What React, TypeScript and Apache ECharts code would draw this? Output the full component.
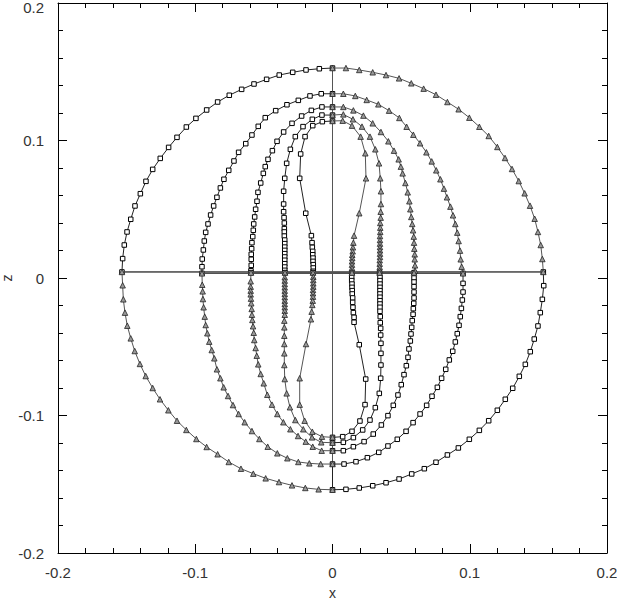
import React, { useEffect, useRef } from "react";
import * as echarts from "echarts";

// Axis ticks
const tickValues = [-0.2, -0.1, 0, 0.1, 0.2];
const tickLabels = ["-0.2", "-0.1", "0", "0.1", "0.2"];

// Curve 1 (outer)
const sq1Up = [[0,0.1527],[-0.0096,0.1522],[-0.0193,0.1513],[-0.0290,0.1496],[-0.0388,0.1476],[-0.0480,0.1445],[-0.0572,0.1411],[-0.0662,0.1372],[-0.0752,0.1329],[-0.0837,0.1280],[-0.0917,0.1222],[-0.0995,0.1161],[-0.1065,0.1098],[-0.1133,0.1023],[-0.1194,0.0950],[-0.1255,0.0870],[-0.1310,0.0790],[-0.1359,0.0703],[-0.1400,0.0613],[-0.1439,0.0524],[-0.1470,0.0427],[-0.1497,0.0335],[-0.1517,0.0240],[-0.1529,0.0141],[-0.1534,0.0044]];
const sq1Low = [[0.1536,0.0044],[0.1539,-0.0056],[0.1529,-0.0155],[0.1514,-0.0252],[0.1497,-0.0349],[0.1470,-0.0444],[0.1441,-0.0536],[0.1405,-0.0628],[0.1361,-0.0715],[0.1313,-0.0802],[0.1259,-0.0882],[0.1201,-0.0962],[0.1138,-0.1038],[0.1070,-0.1108],[0.0997,-0.1173],[0.0917,-0.1236],[0.0837,-0.1287],[0.0754,-0.1340],[0.0669,-0.1387],[0.0577,-0.1425],[0.0485,-0.1462],[0.0390,-0.1489],[0.0293,-0.1511],[0.0195,-0.1527],[0.0098,-0.1537],[0,-0.1540]];
const tri1Up = [[0,0.1527],[0.0098,0.1527],[0.0195,0.1513],[0.0293,0.1496],[0.0390,0.1476],[0.0485,0.1452],[0.0574,0.1416],[0.0664,0.1377],[0.0754,0.1333],[0.0837,0.1280],[0.0919,0.1227],[0.0997,0.1166],[0.1070,0.1100],[0.1138,0.1033],[0.1201,0.0953],[0.1257,0.0873],[0.1308,0.0793],[0.1357,0.0705],[0.1400,0.0616],[0.1439,0.0526],[0.1473,0.0431],[0.1497,0.0335],[0.1517,0.0240],[0.1529,0.0138],[0.1536,0.0044]];
const tri1Low = [[-0.1534,0.0044],[-0.1529,-0.0053],[-0.1524,-0.0155],[-0.1512,-0.0252],[-0.1495,-0.0347],[-0.1470,-0.0439],[-0.1441,-0.0531],[-0.1403,-0.0625],[-0.1361,-0.0713],[-0.1310,-0.0800],[-0.1257,-0.0882],[-0.1196,-0.0962],[-0.1133,-0.1038],[-0.1065,-0.1105],[-0.0992,-0.1171],[-0.0917,-0.1229],[-0.0837,-0.1282],[-0.0756,-0.1338],[-0.0667,-0.1387],[-0.0577,-0.1423],[-0.0487,-0.1457],[-0.0390,-0.1484],[-0.0295,-0.1508],[-0.0198,-0.1527],[-0.0101,-0.1537],[0,-0.1540]];

// Curve 2
const sq2Up = [[0,0.1340],[-0.0082,0.1340],[-0.0164,0.1324],[-0.0249,0.1292],[-0.0332,0.1260],[-0.0414,0.1217],[-0.0490,0.1166],[-0.0541,0.1103],[-0.0587,0.1040],[-0.0632,0.0977],[-0.0684,0.0914],[-0.0718,0.0851],[-0.0756,0.0783],[-0.0791,0.0718],[-0.0817,0.0655],[-0.0842,0.0587],[-0.0866,0.0524],[-0.0888,0.0458],[-0.0907,0.0393],[-0.0924,0.0332],[-0.0934,0.0269],[-0.0941,0.0204],[-0.0949,0.0138],[-0.0951,0.0082],[-0.0951,0.0034]];
const sq2Low = [[0.0951,0.0034],[0.0951,-0.0039],[0.0951,-0.0102],[0.0946,-0.0160],[0.0939,-0.0221],[0.0931,-0.0281],[0.0922,-0.0344],[0.0909,-0.0405],[0.0895,-0.0465],[0.0876,-0.0533],[0.0851,-0.0596],[0.0825,-0.0664],[0.0795,-0.0729],[0.0764,-0.0795],[0.0725,-0.0860],[0.0686,-0.0926],[0.0638,-0.0989],[0.0587,-0.1052],[0.0536,-0.1115],[0.0472,-0.1173],[0.0404,-0.1222],[0.0337,-0.1268],[0.0254,-0.1307],[0.0171,-0.1336],[0.0084,-0.1353],[0,-0.1353]];
const tri2Up = [[0,0.1340],[0.0079,0.1340],[0.0166,0.1324],[0.0249,0.1295],[0.0334,0.1263],[0.0412,0.1217],[0.0487,0.1164],[0.0540,0.1100],[0.0589,0.1042],[0.0638,0.0980],[0.0684,0.0914],[0.0723,0.0848],[0.0756,0.0783],[0.0786,0.0718],[0.0812,0.0650],[0.0834,0.0587],[0.0859,0.0519],[0.0878,0.0456],[0.0895,0.0393],[0.0909,0.0330],[0.0919,0.0269],[0.0929,0.0199],[0.0934,0.0136],[0.0941,0.0082],[0.0951,0.0034]];
const tri2Low = [[-0.0951,0.0034],[-0.0949,-0.0049],[-0.0946,-0.0097],[-0.0944,-0.0153],[-0.0939,-0.0213],[-0.0931,-0.0281],[-0.0924,-0.0342],[-0.0912,-0.0402],[-0.0898,-0.0463],[-0.0880,-0.0524],[-0.0861,-0.0584],[-0.0842,-0.0664],[-0.0817,-0.0729],[-0.0793,-0.0795],[-0.0761,-0.0858],[-0.0725,-0.0924],[-0.0684,-0.0989],[-0.0640,-0.1049],[-0.0587,-0.1113],[-0.0533,-0.1171],[-0.0472,-0.1227],[-0.0402,-0.1275],[-0.0329,-0.1311],[-0.0249,-0.1338],[-0.0169,-0.1348],[-0.0086,-0.1353],[0,-0.1353]];

// Curve 3
const sq3Up = [[0,0.1244],[-0.0077,0.1244],[-0.0154,0.1219],[-0.0225,0.1178],[-0.0295,0.1125],[-0.0356,0.1062],[-0.0404,0.0994],[-0.0438,0.0926],[-0.0470,0.0863],[-0.0490,0.0810],[-0.0504,0.0761],[-0.0523,0.0691],[-0.0543,0.0623],[-0.0550,0.0558],[-0.0560,0.0500],[-0.0567,0.0444],[-0.0574,0.0393],[-0.0577,0.0347],[-0.0581,0.0301],[-0.0587,0.0257],[-0.0589,0.0213],[-0.0592,0.0172],[-0.0592,0.0136],[-0.0592,0.0092],[-0.0594,0.0053],[-0.0594,0.0039]];
const sq3Low = [[0.0594,0.0039],[0.0594,0.0000],[0.0594,-0.0029],[0.0594,-0.0063],[0.0594,-0.0102],[0.0594,-0.0145],[0.0592,-0.0184],[0.0589,-0.0223],[0.0587,-0.0264],[0.0581,-0.0310],[0.0577,-0.0359],[0.0572,-0.0407],[0.0567,-0.0458],[0.0557,-0.0516],[0.0550,-0.0577],[0.0538,-0.0638],[0.0521,-0.0703],[0.0501,-0.0776],[0.0477,-0.0851],[0.0443,-0.0926],[0.0404,-0.1001],[0.0356,-0.1069],[0.0297,-0.1135],[0.0230,-0.1190],[0.0152,-0.1227],[0.0079,-0.1256],[0,-0.1256]];
const tri3Up = [[0,0.1244],[0.0079,0.1244],[0.0152,0.1219],[0.0225,0.1181],[0.0293,0.1125],[0.0353,0.1062],[0.0407,0.0994],[0.0448,0.0926],[0.0482,0.0863],[0.0498,0.0810],[0.0511,0.0761],[0.0531,0.0691],[0.0548,0.0623],[0.0560,0.0558],[0.0567,0.0500],[0.0574,0.0444],[0.0581,0.0393],[0.0587,0.0347],[0.0592,0.0301],[0.0594,0.0257],[0.0596,0.0213],[0.0599,0.0172],[0.0599,0.0136],[0.0601,0.0092],[0.0601,0.0053],[0.0594,0.0039]];
const tri3Low = [[-0.0594,0.0039],[-0.0596,-0.0024],[-0.0596,-0.0063],[-0.0596,-0.0092],[-0.0596,-0.0119],[-0.0594,-0.0150],[-0.0592,-0.0184],[-0.0589,-0.0225],[-0.0587,-0.0267],[-0.0584,-0.0305],[-0.0579,-0.0351],[-0.0574,-0.0398],[-0.0570,-0.0451],[-0.0560,-0.0509],[-0.0552,-0.0565],[-0.0541,-0.0628],[-0.0523,-0.0698],[-0.0501,-0.0766],[-0.0475,-0.0849],[-0.0441,-0.0921],[-0.0402,-0.0989],[-0.0358,-0.1049],[-0.0307,-0.1100],[-0.0251,-0.1149],[-0.0195,-0.1190],[-0.0144,-0.1227],[-0.0079,-0.1256],[0,-0.1256]];

// Curve 4
const sq4Up = [[0,0.1185],[-0.0077,0.1185],[-0.0147,0.1154],[-0.0215,0.1101],[-0.0271,0.1028],[-0.0307,0.0936],[-0.0334,0.0834],[-0.0348,0.0725],[-0.0356,0.0631],[-0.0356,0.0538],[-0.0356,0.0482],[-0.0353,0.0439],[-0.0351,0.0400],[-0.0351,0.0359],[-0.0351,0.0335],[-0.0351,0.0305],[-0.0348,0.0276],[-0.0348,0.0250],[-0.0348,0.0225],[-0.0348,0.0201],[-0.0348,0.0177],[-0.0348,0.0153],[-0.0348,0.0129],[-0.0348,0.0104],[-0.0348,0.0080],[-0.0348,0.0056],[-0.0346,0.0039]];
const sq4Low = [[0.0343,0.0039],[0.0346,0.0005],[0.0346,-0.0019],[0.0346,-0.0044],[0.0346,-0.0068],[0.0346,-0.0092],[0.0346,-0.0116],[0.0346,-0.0140],[0.0346,-0.0165],[0.0346,-0.0189],[0.0346,-0.0213],[0.0346,-0.0242],[0.0348,-0.0281],[0.0348,-0.0325],[0.0351,-0.0366],[0.0351,-0.0415],[0.0353,-0.0475],[0.0353,-0.0548],[0.0353,-0.0633],[0.0351,-0.0729],[0.0341,-0.0839],[0.0312,-0.0943],[0.0273,-0.1033],[0.0220,-0.1105],[0.0152,-0.1161],[0.0079,-0.1195],[0,-0.1198]];
const tri4Up = [[0,0.1185],[0.0079,0.1190],[0.0149,0.1154],[0.0215,0.1101],[0.0273,0.1028],[0.0312,0.0936],[0.0339,0.0834],[0.0348,0.0725],[0.0353,0.0631],[0.0353,0.0538],[0.0351,0.0482],[0.0351,0.0439],[0.0348,0.0400],[0.0348,0.0366],[0.0348,0.0335],[0.0346,0.0305],[0.0346,0.0276],[0.0346,0.0250],[0.0346,0.0225],[0.0346,0.0201],[0.0346,0.0177],[0.0346,0.0153],[0.0344,0.0129],[0.0344,0.0104],[0.0344,0.0080],[0.0344,0.0056],[0.0343,0.0039]];
const tri4Low = [[-0.0346,0.0039],[-0.0348,0.0005],[-0.0348,-0.0019],[-0.0348,-0.0044],[-0.0348,-0.0068],[-0.0348,-0.0092],[-0.0348,-0.0116],[-0.0348,-0.0140],[-0.0348,-0.0165],[-0.0348,-0.0189],[-0.0348,-0.0213],[-0.0348,-0.0238],[-0.0348,-0.0267],[-0.0351,-0.0310],[-0.0351,-0.0359],[-0.0351,-0.0420],[-0.0351,-0.0480],[-0.0351,-0.0548],[-0.0351,-0.0633],[-0.0348,-0.0735],[-0.0334,-0.0839],[-0.0310,-0.0940],[-0.0271,-0.1033],[-0.0213,-0.1100],[-0.0149,-0.1159],[-0.0082,-0.1195],[0,-0.1198]];

// Curve 5 (inner)
const sq5Up = [[0,0.1142],[-0.0074,0.1137],[-0.0144,0.1108],[-0.0200,0.1028],[-0.0232,0.0902],[-0.0239,0.0725],[-0.0195,0.0471],[-0.0154,0.0308],[-0.0149,0.0257],[-0.0147,0.0223],[-0.0144,0.0194],[-0.0144,0.0169],[-0.0142,0.0145],[-0.0142,0.0121],[-0.0140,0.0097],[-0.0140,0.0073],[-0.0140,0.0049],[-0.0142,0.0039]];
const sq5Low = [[0.0142,0.0039],[0.0140,0.0005],[0.0140,-0.0019],[0.0142,-0.0044],[0.0142,-0.0068],[0.0144,-0.0092],[0.0144,-0.0116],[0.0147,-0.0145],[0.0147,-0.0177],[0.0149,-0.0213],[0.0152,-0.0252],[0.0157,-0.0286],[0.0157,-0.0322],[0.0195,-0.0485],[0.0242,-0.0735],[0.0237,-0.0921],[0.0200,-0.1040],[0.0142,-0.1115],[0.0074,-0.1154],[0,-0.1159]];
const tri5Up = [[0,0.1142],[0.0074,0.1144],[0.0142,0.1108],[0.0205,0.1028],[0.0239,0.0907],[0.0244,0.0725],[0.0195,0.0471],[0.0157,0.0308],[0.0152,0.0257],[0.0149,0.0223],[0.0147,0.0194],[0.0144,0.0169],[0.0144,0.0145],[0.0142,0.0121],[0.0142,0.0097],[0.0142,0.0073],[0.0140,0.0049],[0.0142,0.0039]];
const tri5Low = [[-0.0142,0.0039],[-0.0140,0.0009],[-0.0140,-0.0015],[-0.0140,-0.0039],[-0.0140,-0.0063],[-0.0142,-0.0087],[-0.0142,-0.0111],[-0.0142,-0.0136],[-0.0144,-0.0165],[-0.0147,-0.0196],[-0.0152,-0.0245],[-0.0157,-0.0300],[-0.0193,-0.0480],[-0.0239,-0.0729],[-0.0239,-0.0921],[-0.0203,-0.1038],[-0.0147,-0.1118],[-0.0077,-0.1154],[0,-0.1159]];

const squareTrack = [
  ...sq1Up, ...sq1Low, ...sq2Up, ...sq2Low, ...sq3Up, ...sq3Low,
  ...sq4Up, ...sq4Low, ...sq5Up, ...sq5Low,
];
const triangleTrack = [
  ...tri5Up, ...tri5Low, ...tri4Up, ...tri4Low, ...tri3Up, ...tri3Low,
  ...tri2Up, ...tri2Low, ...tri1Up, ...tri1Low,
];

const FONT = "Liberation Sans, Arial, sans-serif";
const LABEL_COLOR = "#333";

function fmtX(v: number) {
  const i = tickValues.findIndex((t) => Math.abs(t - v) < 1e-9);
  return i >= 0 ? tickLabels[i] : "";
}
function fmtY(v: number) {
  const i = tickValues.findIndex((t) => Math.abs(t - v) < 1e-9);
  if (i < 0) return "";
  return i === tickValues.length - 1 ? "{top|" + tickLabels[i] + "}" : tickLabels[i];
}

function axis(position: string, showLabel: boolean, name: string, isY: boolean) {
  return {
    type: "value",
    position,
    min: -0.2,
    max: 0.2,
    interval: 0.1,
    name: showLabel ? name : "",
    nameLocation: "middle",
    nameGap: isY ? 44 : 33,
    nameMoveOverlap: false,
    nameTextStyle: { color: LABEL_COLOR, fontSize: 14, fontFamily: FONT },
    axisLine: { show: true, onZero: false, lineStyle: { color: "#000", width: 1 } },
    axisTick: { show: true, inside: true, length: 9, lineStyle: { color: "#000", width: 1 } },
    minorTick: { show: true, splitNumber: 5, length: 5, lineStyle: { color: "#000", width: 1 } },
    splitLine: { show: false },
    minorSplitLine: { show: false },
    axisLabel: {
      show: showLabel,
      color: LABEL_COLOR,
      fontSize: 15,
      fontFamily: FONT,
      margin: isY ? 14 : 12,
      formatter: isY ? fmtY : fmtX,
      rich: {
        top: { color: LABEL_COLOR, fontSize: 15, fontFamily: FONT, padding: [9, 0, 0, 0] },
      },
    },
  };
}

export default function App() {
  const ref = useRef<HTMLDivElement>(null);
  useEffect(() => {
    document.body.style.margin = "0";
    const chart = echarts.init(ref.current!, null, { renderer: "svg" });
    chart.setOption({
      animation: false,
      backgroundColor: "#fff",
      grid: { left: 58, right: 10, top: 3, bottom: 48, containLabel: false, outerBoundsMode: "none" },
      xAxis: [axis("bottom", true, "x", false), axis("top", false, "", false)],
      yAxis: [axis("left", true, "z", true), axis("right", false, "", true)],
      series: [
        {
          type: "line",
          name: "squares",
          data: squareTrack,
          symbol: "rect",
          symbolSize: 4.5,
          showAllSymbol: true,
          silent: true,
          lineStyle: { color: "#222", width: 1 },
          itemStyle: { color: "#fff", borderColor: "#000", borderWidth: 1 },
          z: 2,
        },
        {
          type: "line",
          name: "triangles",
          data: triangleTrack,
          symbol: "triangle",
          symbolSize: 5.5,
          showAllSymbol: true,
          silent: true,
          lineStyle: { color: "#555", width: 1 },
          itemStyle: { color: "#999", borderColor: "#222", borderWidth: 0.8 },
          z: 3,
        },
      ],
    });
    return () => chart.dispose();
  }, []);
  return <div ref={ref} style={{ width: 617, height: 601 }} />;
}
